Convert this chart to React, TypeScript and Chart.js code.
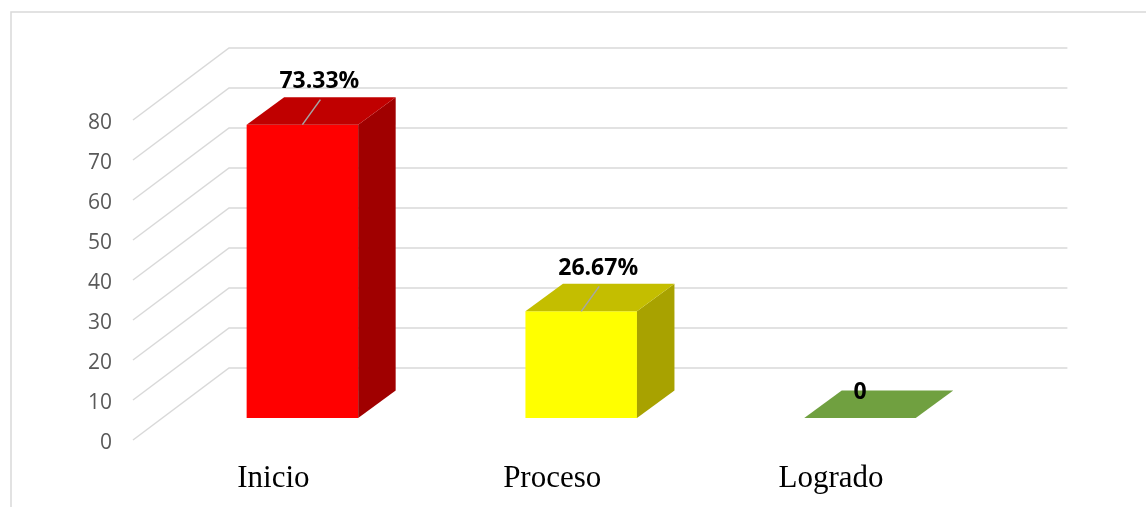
import React, { useEffect, useRef } from 'react';
import { Chart, registerables } from 'chart.js';

Chart.register(...registerables);

const categories = ['Inicio', 'Proceso', 'Logrado'];
const values = [73.33, 26.67, 0];
const valueLabels = ['73.33%', '26.67%', '0'];
const yTicks = [0, 10, 20, 30, 40, 50, 60, 70, 80];

const frontColors = ['#FF0000', '#FFFF00', '#70A040'];
const topColors = ['#C00000', '#C4BE00', '#70A040'];
const sideColors = ['#A00000', '#A8A200', '#5A8532'];

const DX = 37.5;
const DY = -27.5;
const GRID = '#D9D9D9';

function poly(ctx: CanvasRenderingContext2D, pts: number[][], color: string) {
  ctx.beginPath();
  ctx.moveTo(pts[0][0], pts[0][1]);
  for (let i = 1; i < pts.length; i++) ctx.lineTo(pts[i][0], pts[i][1]);
  ctx.closePath();
  ctx.fillStyle = color;
  ctx.fill();
}

const threeD = {
  id: 'threeD',
  beforeDraw(chart: any) {
    const ctx = chart.ctx as CanvasRenderingContext2D;
    ctx.save();
    ctx.fillStyle = '#FFFFFF';
    ctx.fillRect(0, 0, chart.width, chart.height);
    ctx.strokeStyle = GRID;
    ctx.lineWidth = 1.5;
    ctx.strokeRect(11, 12, chart.width + 50, chart.height + 50);
    ctx.restore();
  },
  beforeDatasetsDraw(chart: any) {
    const ctx = chart.ctx as CanvasRenderingContext2D;
    const ys = chart.scales.yAxis;
    const area = chart.chartArea;
    const x0 = area.left - 30;
    const x1 = area.left + 66;
    const x2 = area.right + 68;
    ctx.save();
    ctx.strokeStyle = GRID;
    ctx.lineWidth = 1.5;
    ys.ticks.forEach((t: any) => {
      const y = ys.getPixelForValue(t.value);
      ctx.beginPath();
      ctx.moveTo(x0, y);
      ctx.lineTo(x1, y - 72);
      ctx.lineTo(x2, y - 72);
      ctx.stroke();
    });
    ctx.restore();
  },
  afterDatasetsDraw(chart: any) {
    const ctx = chart.ctx as CanvasRenderingContext2D;
    const meta = chart.getDatasetMeta(0);
    ctx.save();
    meta.data.forEach((bar: any, i: number) => {
      const { x, y, base, width } = bar.getProps(['x', 'y', 'base', 'width'], true);
      const l = x - width / 2;
      const r = x + width / 2;
      if (base - y > 0.5) {
        poly(ctx, [[r, y], [r, base], [r + DX, base + DY], [r + DX, y + DY]], sideColors[i]);
      }
      poly(ctx, [[l, y], [r, y], [r + DX, y + DY], [l + DX, y + DY]], topColors[i]);
    });
    ctx.restore();
  },
  afterDraw(chart: any) {
    const ctx = chart.ctx as CanvasRenderingContext2D;
    const meta = chart.getDatasetMeta(0);
    ctx.save();
    ctx.font = 'bold 23px "Open Sans"';
    ctx.textAlign = 'center';
    ctx.textBaseline = 'middle';
    meta.data.forEach((bar: any, i: number) => {
      const { x, y } = bar.getProps(['x', 'y'], true);
      if (values[i] !== 0) {
        ctx.strokeStyle = '#A6A6A6';
        ctx.lineWidth = 1.5;
        ctx.beginPath();
        ctx.moveTo(x, y);
        ctx.lineTo(x + 18, y - 25);
        ctx.stroke();
        ctx.fillStyle = '#000000';
        ctx.fillText(valueLabels[i], x + 17, y - 43);
      } else {
        ctx.fillStyle = '#000000';
        ctx.fillText(valueLabels[i], x, y - 26);
      }
    });
    ctx.restore();
  },
};

export default function App() {
  const ref = useRef<HTMLCanvasElement | null>(null);

  useEffect(() => {
    if (!ref.current) return;
    const chart = new Chart(ref.current, {
      type: 'bar',
      data: {
        labels: categories,
        datasets: [
          {
            data: values,
            backgroundColor: frontColors,
            borderWidth: 0,
            barPercentage: 0.4,
            categoryPercentage: 1,
            yAxisID: 'y',
          },
        ],
      },
      options: {
        animation: false,
        responsive: false,
        maintainAspectRatio: false,
        devicePixelRatio: 1,
        layout: { padding: { left: 0, right: 146.6, top: 40, bottom: 0 } },
        plugins: { legend: { display: false }, tooltip: { enabled: false } },
        scales: {
          x: {
            type: 'category',
            grid: { display: false, drawTicks: false },
            border: { display: false },
            ticks: {
              font: { family: '"Liberation Serif", "Times New Roman", serif', size: 31 },
              color: '#000000',
              padding: 20,
              labelOffset: -29,
              maxRotation: 0,
              autoSkip: false,
            },
            afterFit: (s: any) => {
              s.height = 67;
              s.paddingLeft = 0;
              s.paddingRight = 0;
            },
          },
          y: {
            display: false,
            min: -5.5,
            max: 94.5,
          },
          yAxis: {
            type: 'linear',
            position: 'left',
            min: 0,
            max: 100,
            grid: { display: false, drawTicks: false },
            border: { display: false },
            ticks: {
              stepSize: 10,
              font: { family: '"Open Sans"', size: 21 },
              color: '#595959',
              padding: 51,
              labelOffset: 3,
            },
            afterBuildTicks: (s: any) => {
              s.ticks = yTicks.map((v) => ({ value: v }));
            },
            afterFit: (s: any) => {
              s.width = 163;
              s.paddingTop = 0;
              s.paddingBottom = 0;
            },
          },
        },
      } as any,
      plugins: [threeD as any],
    });
    return () => chart.destroy();
  }, []);

  return (
    <div style={{ position: 'fixed', left: 0, top: 0, width: 1146, height: 507, background: '#fff' }}>
      <canvas ref={ref} width={1146} height={507} style={{ display: 'block' }} />
    </div>
  );
}
